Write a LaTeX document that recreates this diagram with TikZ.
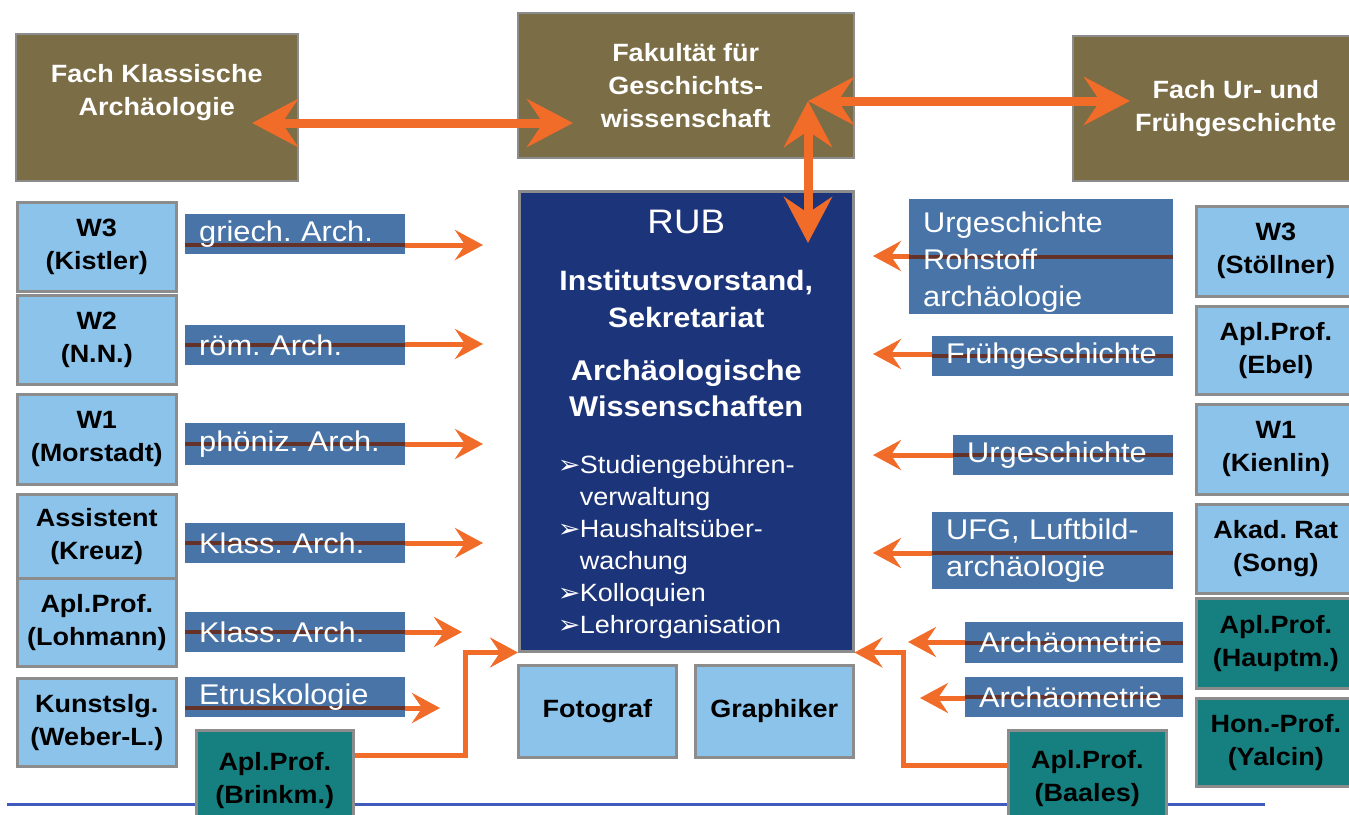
\documentclass[tikz,border=0pt]{standalone}
\usepackage{fontspec}
\setmainfont{Liberation Sans}[FakeStretch=1.08]
\newfontfamily\symfont{DejaVu Sans}[FakeStretch=1.08]
\usetikzlibrary{arrows.meta}

\definecolor{facolive}{RGB}{123,109,70}
\definecolor{staffblue}{RGB}{140,195,235}
\definecolor{barblue}{RGB}{72,116,168}
\definecolor{rubnavy}{RGB}{28,52,122}
\definecolor{profteal}{RGB}{22,128,128}
\definecolor{linkorange}{RGB}{240,108,40}
\definecolor{crossbrown}{RGB}{100,50,40}
\definecolor{edgegray}{RGB}{140,140,140}
\definecolor{ruleblue}{RGB}{65,90,190}

\newcommand{\rubbullet}{\makebox[22pt][l]{\symfont\fontsize{25}{25}\selectfont ➢}}

\begin{document}
\frenchspacing
\begin{tikzpicture}[x=1pt,y=-1pt,
  every node/.style={inner sep=0pt,anchor=north west},
  facbox/.style={draw=edgegray,line width=1.5pt,fill=facolive,text=white,align=center,
    font=\bfseries\fontsize{25}{33}\selectfont},
  staffbox/.style={draw=edgegray,line width=2.5pt,fill=staffblue,align=center,
    minimum width=159pt,font=\bfseries\fontsize{25}{33}\selectfont},
  profbox/.style={staffbox,fill=profteal},
  fieldbar/.style={fill=barblue,text=white,align=left,inner xsep=14pt,
    font=\fontsize{28.5}{37}\selectfont,
    path picture={\draw[crossbrown,line width=4pt]
      ([yshift=#1]path picture bounding box.west) -- ([yshift=#1]path picture bounding box.east);}},
  fieldbar/.default=0pt,
  link/.style={linkorange,line width=5pt,-{Stealth[length=28pt,width=30pt,inset=10pt]}},
  biglink/.style={linkorange,line width=9pt,
    {Stealth[length=46pt,width=48pt,inset=16pt]}-{Stealth[length=46pt,width=48pt,inset=16pt]}}]
  \useasboundingbox (0,0) rectangle (1349,814);
  \fill[white] (0,0) rectangle (1349,814);
  \draw[ruleblue,line width=3pt] (7,804) -- (1265,804);

  % Fach / Fakultaet
  \node[facbox,minimum width=282pt,minimum height=147pt] (klass) at (15,33) {Fach Klassische\\Archäologie\\[2pt]\mbox{}};
  \node[facbox,minimum width=336pt,minimum height=145pt] (fak) at (517,12) {Fakultät für\\Geschichts-\\wissenschaft};
  \node[facbox,minimum width=326pt,minimum height=145pt] (urfrueh) at (1072,35) {Fach Ur- und\\Frühgeschichte};

  % Institut
  \node[draw=edgegray,line width=2.5pt,fill=rubnavy,text=white,align=center,
    minimum width=334pt,minimum height=460pt,font=\fontsize{25}{32}\selectfont] (rub) at (518,190) {%
    {\fontsize{34}{32}\selectfont RUB}\\[25pt]
    {\bfseries\fontsize{28}{32}\selectfont Institutsvorstand,}\\[5pt]
    {\bfseries\fontsize{28}{32}\selectfont Sekretariat}\\[21pt]
    {\bfseries\fontsize{28.5}{32}\selectfont Archäologische}\\[4pt]
    {\bfseries\fontsize{28.5}{32}\selectfont Wissenschaften}\\[25pt]
    \hspace*{-20pt}\begin{tabular}[t]{@{}l@{}}
      \rubbullet Studiengebühren-\\
      \hspace*{22pt}verwaltung\\
      \rubbullet Haushaltsüber-\\
      \hspace*{22pt}wachung\\
      \rubbullet Kolloquien\\
      \rubbullet Lehrorganisation
    \end{tabular}\\[-12pt]\mbox{}};

  % Stellen
  \foreach \n/\y/\h/\t in {kistler/201/89/{W3\\(Kistler)}, nn/294/89/{W2\\(N.N.)},
      morstadt/393/90/{W1\\(Morstadt)}, kreuz/493/84/{Assistent\\(Kreuz)},
      lohmann/577/88/{Apl.Prof.\\(Lohmann)}, weber/677/88/{Kunstslg.\\(Weber-L.)}}
    \node[staffbox,minimum height=\h pt] (\n) at (16,\y) {\t};
  \foreach \n/\f/\y/\h/\t in {stoellner/staffblue/205/90/{W3\\(Stöllner)},
      ebel/staffblue/305/88/{Apl.Prof.\\(Ebel)}, kienlin/staffblue/403/90/{W1\\(Kienlin)},
      song/staffblue/503/89/{Akad. Rat\\(Song)}, hauptm/profteal/597/90/{Apl.Prof.\\(Hauptm.)},
      yalcin/profteal/697/88/{Hon.-Prof.\\(Yalcin)}}
    \node[staffbox,fill=\f,minimum height=\h pt] (\n) at (1195,\y) {\t};
  \node[staffbox,minimum width=158pt,minimum height=92pt] (fotograf) at (517,664) {Fotograf};
  \node[staffbox,minimum width=158pt,minimum height=92pt] (graphiker) at (694,664) {Graphiker};
  \node[profbox,minimum width=157pt,minimum height=100pt] (brinkm) at (195,729) {Apl.Prof.\\(Brinkm.)};
  \node[profbox,minimum width=158pt,minimum height=96pt] (baales) at (1007,729) {Apl.Prof.\\(Baales)};

  % Fachgebiete links
  \node[fieldbar=-11pt,text width=192pt,minimum height=40pt] (griech) at (185,214) {griech. Arch.};
  \node[fieldbar,text width=192pt,minimum height=40pt] (roem) at (185,325) {röm. Arch.};
  \node[fieldbar,text width=192pt,minimum height=42pt] (phoen) at (185,423) {phöniz. Arch.};
  \node[fieldbar,text width=192pt,minimum height=40pt] (klassA) at (185,523) {Klass. Arch.};
  \node[fieldbar,text width=192pt,minimum height=40pt] (klassB) at (185,612) {Klass. Arch.};
  \node[fieldbar=-11pt,text width=192pt,minimum height=40pt] (etrusk) at (185,677) {Etruskologie};

  % Fachgebiete rechts
  \node[fieldbar,text width=236pt,minimum height=115pt] (rohstoff) at (909,199) {\rule{0pt}{31pt}Urgeschichte\\Rohstoff\\archäologie};
  \node[fieldbar,text width=213pt,minimum height=40pt] (fruehg) at (932,336) {Frühgeschichte};
  \node[fieldbar,text width=192pt,minimum height=40pt] (urg) at (953,435) {Urgeschichte};
  \node[fieldbar=-2.5pt,text width=213pt,minimum height=77pt] (ufg) at (932,512) {UFG, Luftbild-\\archäologie};
  \node[fieldbar,text width=190pt,minimum height=41pt] (archA) at (965,622) {Archäometrie};
  \node[fieldbar,text width=190pt,minimum height=40pt] (archB) at (965,677) {Archäometrie};

  % Pfeilspitzen
  \coordinate (tipGriech) at (483,245);
  \coordinate (tipRoem) at (483,344);
  \coordinate (tipPhoen) at (483,444);
  \coordinate (tipKlassA) at (483,543);
  \coordinate (tipKlassB) at (462,632);
  \coordinate (tipEtrusk) at (440,708);
  \coordinate (tipRoh) at (873,256);
  \coordinate (tipFrueh) at (873,354);
  \coordinate (tipUrg) at (873,455);
  \coordinate (tipUfg) at (873,553);
  \coordinate (tipArchA) at (908,642);
  \coordinate (tipArchB) at (920,698);
  \coordinate (klassTip) at (252,123);
  \coordinate (fakTipW) at (573,123);
  \coordinate (fakTipE) at (808,101);
  \coordinate (urTip) at (1130,101);
  \coordinate (rubTip) at (808,243);

  \foreach \b/\p in {griech/tipGriech, roem/tipRoem, phoen/tipPhoen, klassA/tipKlassA,
      klassB/tipKlassB, etrusk/tipEtrusk}
    \draw[link] (\b.east |- \p) -- (\p);
  \foreach \b/\p in {rohstoff/tipRoh, fruehg/tipFrueh, urg/tipUrg,
      ufg/tipUfg, archA/tipArchA, archB/tipArchB}
    \draw[link] (\b.west |- \p) -- (\p);

  \draw[link] ([yshift=-26pt]brinkm.north east) -- ++(111,0) |- (rub.south west);
  \draw[link] ([yshift=-36pt]baales.north west) -- ++(-104,0) |- (rub.south east);

  \draw[biglink] (klassTip) -- (fakTipW);
  \draw[biglink] (fakTipE) -- (urTip);
  \draw[biglink] (fakTipE) -- (rubTip);
\end{tikzpicture}
\end{document}
